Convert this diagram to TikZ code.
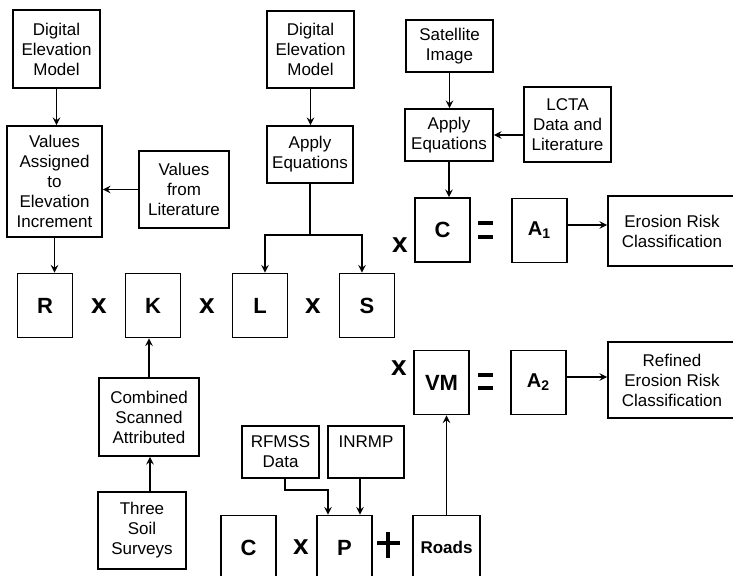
\documentclass[tikz,border=0pt]{standalone}
\usepackage{fontspec}
\setmainfont{Liberation Sans}
\usepackage{tikz}

\begin{document}
\begin{tikzpicture}[x=0.5pt,y=-0.5pt,
            box/.style={draw,line width=0.9pt,align=center,inner sep=0pt,
                font=\fontsize{8.5}{10}\selectfont},
            sq/.style={box,minimum width=27.5pt,minimum height=32pt,
                font=\fontsize{11}{11}\selectfont\bfseries},
            op/.style={inner sep=0pt,font=\fontsize{14}{14}\selectfont\bfseries},
            bar/.style={line width=2pt},
            arr/.style={->,>=stealth,line width=0.7pt}]

            \useasboundingbox (0,0) rectangle (733,576);
            \clip (0,0) rectangle (733,576);

            % rainfall factor from the elevation model
            \node[box,minimum width=43.5pt,minimum height=39pt] (dem1) at (56.5,49) {Digital\\Elevation\\Model};
            \node[box,minimum width=47.5pt,minimum height=55.5pt] (vals) at (54.5,181.5) {Values\\Assigned\\to\\Elevation\\Increment};
            \node[box,minimum width=45pt,minimum height=38.5pt] (lit) at (184,189.5) {Values\\from\\Literature};

            % slope length and steepness
            \node[box,minimum width=43.5pt,minimum height=38.5pt] (dem2) at (310.5,49.5) {Digital\\Elevation\\Model};
            \node[box,minimum width=43pt,minimum height=28.5pt] (eq1) at (310,154.5) {Apply\\Equations};

            % cover factor
            \node[box,minimum width=43.5pt,minimum height=26pt] (sat) at (449.5,46) {Satellite\\Image};
            \node[box,minimum width=44pt,minimum height=26pt] (eq2) at (449,135) {Apply\\Equations};
            \node[box,minimum width=43.5pt,minimum height=37.5pt] (lcta) at (567.5,124.5) {LCTA\\Data and\\Literature};

            % the soil loss equation
            \node[sq] (R) at (45,305.5) {R};
            \node[sq] (K) at (153,305.5) {K};
            \node[sq] (L) at (260,305.5) {L};
            \node[sq] (S) at (367,305.5) {S};
            \node[sq] (cfac) at (442.5,230) {C};
            \node[sq,font=\fontsize{10}{10}\selectfont\bfseries] (a1) at (539.5,230.5) {A\textsubscript{1}};
            \node[box,minimum width=64pt,minimum height=35pt] (erc) at (672,231) {Erosion Risk\\Classification};
            \node[op] (x1) at (99,306) {x};
            \node[op] (x2) at (207,306) {x};
            \node[op] (x3) at (313,306) {x};
            \node[op] (x4) at (400,245) {x};
            \draw[bar] (478,223) -- (493,223) (478,237) -- (493,237);

            % soil erodibility
            \node[box,minimum width=50pt,minimum height=39pt] (csa) at (149,417) {Combined\\Scanned\\Attributed};
            \node[box,minimum width=44pt,minimum height=38.5pt] (tss) at (142,530.5) {Three\\Soil\\Surveys};

            % vegetation management
            \node[sq] (vm) at (441.5,382.5) {VM};
            \node[sq,font=\fontsize{10}{10}\selectfont\bfseries] (a2) at (538.5,382.5) {A\textsubscript{2}};
            \node[box,minimum width=64pt,minimum height=38pt] (rerc) at (672,380) {Refined\\Erosion Risk\\Classification};
            \node[op] (x5) at (399,368) {x};
            \draw[bar] (478,375) -- (493,375) (478,388) -- (493,388);

            \node[box,minimum width=38.5pt,minimum height=26pt] (rfmss) at (280.5,452) {RFMSS\\Data};
            \node[box,minimum width=38pt,minimum height=26pt] (inrmp) at (366,452) {INRMP\\\mbox{}};
            \node[sq] (c2) at (248.5,547.5) {C};
            \node[sq] (p) at (344.5,547.5) {P};
            \node[sq,minimum width=33.5pt,font=\fontsize{8.5}{10}\selectfont\bfseries] (roads) at (446.5,547.5) {Roads};
            \node[op] (x6) at (301,547) {x};
            \draw[line width=1.9pt] (377,543) -- (400,543) (388,532) -- (388,558);

            % connectors
            \draw[arr] (dem1.south) -- (dem1.south |- vals.north);
            \draw[arr] (lit.west) -- (lit.west -| vals.east);
            \draw[arr] (vals.south) -- (vals.south |- R.north);
            \draw[arr] (dem2.south) -- (dem2.south |- eq1.north);
            \coordinate (split) at (310,235);
            \draw[arr] (eq1.south) -- (split) -| ([xshift=2.5pt]L.north);
            \draw[arr] (split) -| ([xshift=-2.5pt]S.north);
            \draw[arr] (sat.south) -- (sat.south |- eq2.north);
            \draw[arr] (lcta.west |- eq2.east) -- (eq2.east);
            \draw[arr] (eq2.south) -- (eq2.south |- cfac.north);
            \draw[arr] ([yshift=2.75pt]a1.east) -- ([yshift=2.75pt]a1.east -| erc.west);
            \draw[arr] (csa.north) -- (csa.north |- K.south);
            \draw[arr] ([xshift=4pt]tss.north) -- ([xshift=4pt]tss.north |- csa.south);
            \draw[arr] ([yshift=2.75pt]a2.east) -- ([yshift=2.75pt]a2.east -| rerc.west);
            \draw[arr] ([xshift=2.25pt]rfmss.south) -- ++(0,-5.5pt) -| ([xshift=-8.25pt]p.north);
            \draw[arr] ([xshift=-3pt]inrmp.south) -- ([xshift=-3pt]inrmp.south |- p.north);
            \draw[arr] (roads.north) -- (roads.north |- vm.south);
        \end{tikzpicture}
\end{document}
